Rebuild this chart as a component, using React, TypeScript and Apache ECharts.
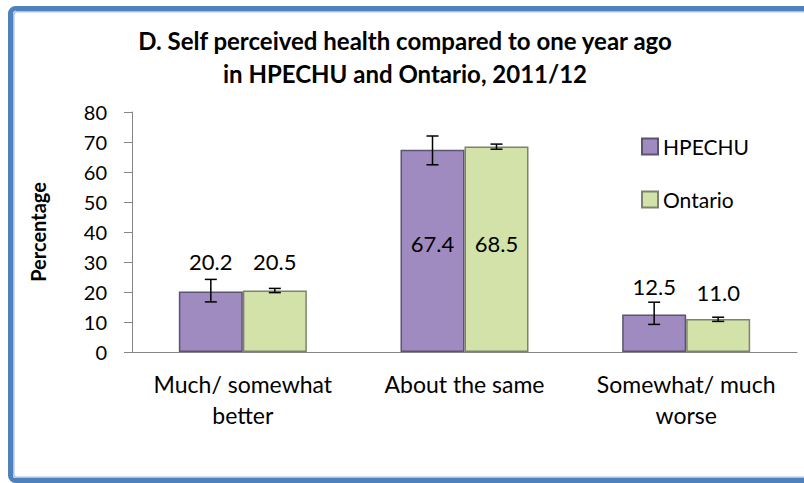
import React, { useEffect, useRef } from "react";
import * as echarts from "echarts";

const categories = ["Much/ somewhat\nbetter", "About the same", "Somewhat/ much\nworse"];
const seriesNames = ["HPECHU", "Ontario"];
const hpechuValues = [20.2, 67.4, 12.5];
const ontarioValues = [20.5, 68.5, 11.0];
const hpechuLow = [16.7, 62.4, 9.2];
const hpechuHigh = [24.2, 72.0, 16.6];
const ontarioLow = [19.8, 67.6, 10.2];
const ontarioHigh = [21.2, 69.3, 11.6];
const yTicks = { min: 0, max: 80, interval: 10 };
const titleText = "D. Self perceived health compared to one year ago\nin HPECHU and Ontario, 2011/12";
const yAxisTitle = "Percentage";

const FONT = "Lato, 'Noto Sans', sans-serif";
const BAR_W = 64;

// label placement per category (style, not data)
const hpechuLabelCfg = [
  { position: "top", distance: 19 },
  { position: "inside", offset: [0, -7] },
  { position: "top", distance: 17 },
];
const ontarioLabelCfg = [
  { position: "top", distance: 18 },
  { position: "inside", offset: [0, -6] },
  { position: "top", distance: 16 },
];

function errorSeries(name: string, low: number[], high: number[], offset: number) {
  return {
    type: "custom",
    name: name + " error",
    z: 10,
    silent: true,
    data: low.map((l, i) => [i, l, high[i]]),
    encode: { x: 0, y: [1, 2] },
    renderItem: (params: any, api: any) => {
      const c = api.value(0);
      const pLow = api.coord([c, api.value(1)]);
      const pHigh = api.coord([c, api.value(2)]);
      const x = pLow[0] + offset;
      const cap = 6;
      const st = { stroke: "#000", lineWidth: 1.5 };
      return {
        type: "group",
        children: [
          { type: "line", shape: { x1: x, y1: pLow[1], x2: x, y2: pHigh[1] }, style: st },
          { type: "line", shape: { x1: x - cap, y1: pLow[1], x2: x + cap, y2: pLow[1] }, style: st },
          { type: "line", shape: { x1: x - cap, y1: pHigh[1], x2: x + cap, y2: pHigh[1] }, style: st },
        ],
      };
    },
  };
}

export default function App() {
  const ref = useRef<HTMLDivElement>(null);
  useEffect(() => {
    if (!ref.current) return;
    const chart = echarts.init(ref.current, undefined, { renderer: "svg" });
    const labelBase = {
      show: true,
      color: "#000",
      fontSize: 22,
      fontFamily: FONT,
      formatter: (p: any) => Number(p.value).toFixed(1),
    };
    chart.setOption({
      animation: false,
      backgroundColor: "#fff",
      textStyle: { fontFamily: FONT },
      title: {
        text: titleText,
        left: 400,
        top: 19,
        textAlign: "center",
        textStyle: {
          fontFamily: FONT,
          fontSize: 24,
          fontWeight: "bold",
          color: "#000",
          lineHeight: 33,
        },
      },
      graphic: [
        {
          type: "rect",
          shape: { x: 10.5, y: 8.5, width: 800, height: 472, r: 5 },
          style: { fill: "none", stroke: "#4F81BD", lineWidth: 5 },
          z: 100,
        },
        {
          type: "rect",
          shape: { x: 13.8, y: 11.8, width: 794, height: 465.5, r: 3 },
          style: { fill: "none", stroke: "#A9C1E0", lineWidth: 1.5 },
          z: 100,
        },
      ],
      legend: {
        orient: "vertical",
        left: 636,
        top: 131,
        itemWidth: 16,
        itemHeight: 16,
        itemGap: 32,
        data: seriesNames,
        icon: "rect",
        textStyle: { fontFamily: FONT, fontSize: 21, color: "#000", lineHeight: 21 },
      },
      grid: { left: 132, right: 7, top: 112, bottom: 131, containLabel: false },
      xAxis: {
        type: "category",
        data: categories,
        axisLine: { lineStyle: { color: "#868686", width: 1 } },
        axisTick: { show: false },
        axisLabel: {
          color: "#000",
          fontSize: 23,
          fontFamily: FONT,
          lineHeight: 31,
          margin: 16,
          interval: 0,
        },
      },
      yAxis: {
        type: "value",
        min: yTicks.min,
        max: yTicks.max,
        interval: yTicks.interval,
        name: yAxisTitle,
        nameLocation: "middle",
        nameGap: 84,
        nameRotate: 90,
        nameTextStyle: { fontFamily: FONT, fontSize: 20, fontWeight: "bold", color: "#000" },
        axisLine: { show: true, lineStyle: { color: "#868686", width: 1 } },
        axisTick: { show: true, length: 8, lineStyle: { color: "#868686" } },
        splitLine: { show: false },
        axisLabel: { color: "#000", fontSize: 20, fontFamily: FONT, margin: 25 },
      },
      series: [
        {
          type: "bar",
          name: seriesNames[0],
          barWidth: BAR_W,
          barGap: "0%",
          itemStyle: { color: "#A08BC1", borderColor: "#5B5470", borderWidth: 1.5 },
          data: hpechuValues.map((v, i) => ({ value: v, label: { ...labelBase, ...hpechuLabelCfg[i] } })),
        },
        {
          type: "bar",
          name: seriesNames[1],
          barWidth: BAR_W,
          barGap: "0%",
          itemStyle: { color: "#D3E2A8", borderColor: "#7C826E", borderWidth: 1.5 },
          data: ontarioValues.map((v, i) => ({ value: v, label: { ...labelBase, ...ontarioLabelCfg[i] } })),
        },
        errorSeries(seriesNames[0], hpechuLow, hpechuHigh, -BAR_W / 2),
        errorSeries(seriesNames[1], ontarioLow, ontarioHigh, BAR_W / 2),
      ],
    });
    return () => chart.dispose();
  }, []);
  return (
    <div
      ref={ref}
      style={{ position: "absolute", left: 0, top: 0, width: 804, height: 483 }}
    />
  );
}
